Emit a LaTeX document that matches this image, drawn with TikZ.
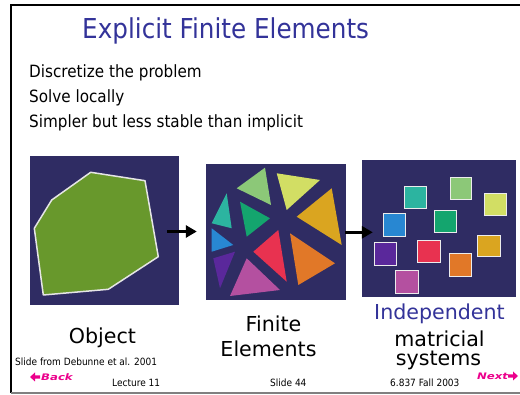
\documentclass[tikz,border=0pt]{standalone}
\usepackage{fontspec}
\setmainfont{DejaVu Sans}
\newfontfamily\slidefont[FakeStretch=0.9]{DejaVu Sans}
\newfontfamily\btnfont[FakeStretch=1.3]{DejaVu Sans}
\usetikzlibrary{arrows.meta}

\definecolor{slideblue}{RGB}{51,51,153}
\definecolor{navy}{RGB}{47,44,99}
\definecolor{leaf}{RGB}{104,152,44}
\definecolor{tealc}{RGB}{44,180,160}
\definecolor{mint}{RGB}{140,200,120}
\definecolor{lime}{RGB}{210,222,100}
\definecolor{gold}{RGB}{218,165,32}
\definecolor{jade}{RGB}{20,165,110}
\definecolor{sky}{RGB}{40,135,210}
\definecolor{rose}{RGB}{232,50,80}
\definecolor{tang}{RGB}{225,120,40}
\definecolor{grape}{RGB}{90,40,155}
\definecolor{orchid}{RGB}{180,80,160}

\tikzset{
  imgbox/.style={fill=navy, draw=none, inner sep=0pt},
  bodytext/.style={font=\slidefont\fontsize{16.9}{20}\selectfont, inner sep=0pt, anchor=base west},
  caption/.style={font=\fontsize{20.6}{24}\selectfont, inner sep=0pt, anchor=base},
  foot/.style={font=\slidefont\fontsize{10}{12}\selectfont, inner sep=0pt, anchor=base west},
  button/.style={font=\btnfont\bfseries\itshape\fontsize{9}{10}\selectfont, text=magenta, inner sep=0pt, anchor=base west},
  flowarrow/.style={line width=3.5pt, -{Triangle[length=11pt,width=12pt]}},
  patch/.style={draw=white!85!gray, line width=0.8pt}
}

\begin{document}
\begin{tikzpicture}[x=1pt,y=-1pt]
\useasboundingbox (0,0) rectangle (520,395);
% slide frame
\draw[line width=2pt] (11,393) -- (11,5) -- (520,5);
\draw[gray, line width=1.5pt] (11,393) -- (520,393);

\node[anchor=base west, inner sep=0pt, text=slideblue, font=\slidefont\fontsize{27.4}{30}\selectfont] (title) at (82,39) {Explicit Finite Elements};
\node[bodytext] (line1) at (29,77.3) {Discretize the problem};
\node[bodytext] (line2) at (29,102.3) {Solve locally};
\node[bodytext] (line3) at (29,127.3) {Simpler but less stable than implicit};

% the three pictures
\node[imgbox, minimum width=149pt, minimum height=149pt] (obj) at (104.5,230.5) {};
\node[imgbox, minimum width=140pt, minimum height=136pt] (fem) at (276,232) {};
\node[imgbox, minimum width=154pt, minimum height=137pt] (sys) at (439,228.5) {};

% object
\filldraw[fill=leaf, draw=white!80!gray, line width=1.5pt, line join=round]
  (90.7,172.3) -- (145,180.7) -- (158.3,256.7) -- (108.3,289.3) -- (43.3,295) -- (34.3,228.3) -- (51.7,200) -- cycle;

% finite elements
\fill[mint] (236.7,188.3) -- (265,167.7) -- (271,205) -- cycle;
\fill[lime] (276.7,173.3) -- (320,180) -- (286.7,210) -- cycle;
\fill[gold] (296.7,216.7) -- (331.7,188.3) -- (341.7,245) -- cycle;
\fill[tealc] (211.7,223.3) -- (226.7,193.3) -- (231.7,228.3) -- cycle;
\fill[jade] (240,201.7) -- (270,218.3) -- (246.7,236.7) -- cycle;
\fill[sky] (211.7,228.3) -- (233.3,245) -- (211.7,251.7) -- cycle;
\fill[rose] (253.3,251.7) -- (278.3,230) -- (286.7,281.7) -- cycle;
\fill[tang] (290,233.3) -- (335,263.3) -- (298.3,285) -- cycle;
\fill[grape] (213.3,258.3) -- (235,251.7) -- (220,288.3) -- cycle;
\fill[orchid] (246.7,258.3) -- (280,290) -- (230,296) -- cycle;

% independent systems
\filldraw[patch, fill=tealc] (404.3,186.7) rectangle (426.7,208.3);
\filldraw[patch, fill=mint] (450,177.7) rectangle (471.7,199);
\filldraw[patch, fill=lime] (484.3,193.3) rectangle (506.7,215);
\filldraw[patch, fill=sky] (383.3,213.3) rectangle (405.7,236);
\filldraw[patch, fill=jade] (434,210) rectangle (456.7,232.3);
\filldraw[patch, fill=grape] (374.3,242.7) rectangle (396.7,265);
\filldraw[patch, fill=rose] (417.7,240.7) rectangle (440,262.7);
\filldraw[patch, fill=gold] (477.7,235) rectangle (500,256.7);
\filldraw[patch, fill=tang] (449,253.3) rectangle (471,276);
\filldraw[patch, fill=orchid] (395.7,270.7) rectangle (418.3,293.3);

\draw[flowarrow] ([shift={(-12,1)}]obj.east) -- ([shift={(-9,-0.5)}]fem.west);
\draw[flowarrow] ([shift={(-1,0.3)}]fem.east) -- ([shift={(11,3.8)}]sys.west);

\node[caption] (objlabel) at (102.5,344) {Object};
\node[caption] (femlabel1) at (273.5,331.7) {Finite};
\node[caption] (femlabel2) at (268.5,356.7) {Elements};
\node[caption, text=slideblue] (syslabel1) at (439.5,320) {Independent};
\node[caption] (syslabel2) at (439.5,347) {matricial};
\node[caption] (syslabel3) at (438.5,366) {systems};

\node[foot] (credit) at (15,365.7) {Slide from Debunne et al. 2001};
\node[foot] (lecture) at (112,386.7) {Lecture 11};
\node[foot] (slideno) at (270,386.7) {Slide 44};
\node[foot] (course) at (390,386.7) {6.837 Fall 2003};

% navigation buttons
\fill[magenta] (30,377) -- (35,372.5) -- (35,375.3) -- (40,375.3) -- (40,378.7) -- (35,378.7) -- (35,381.5) -- cycle;
\node[button] (back) at (41,381) {Back};
\node[button] (next) at (477,380) {Next};
\fill[magenta] (518,376) -- (513,371.5) -- (513,374.3) -- (508,374.3) -- (508,377.7) -- (513,377.7) -- (513,380.5) -- cycle;
\end{tikzpicture}
\end{document}
